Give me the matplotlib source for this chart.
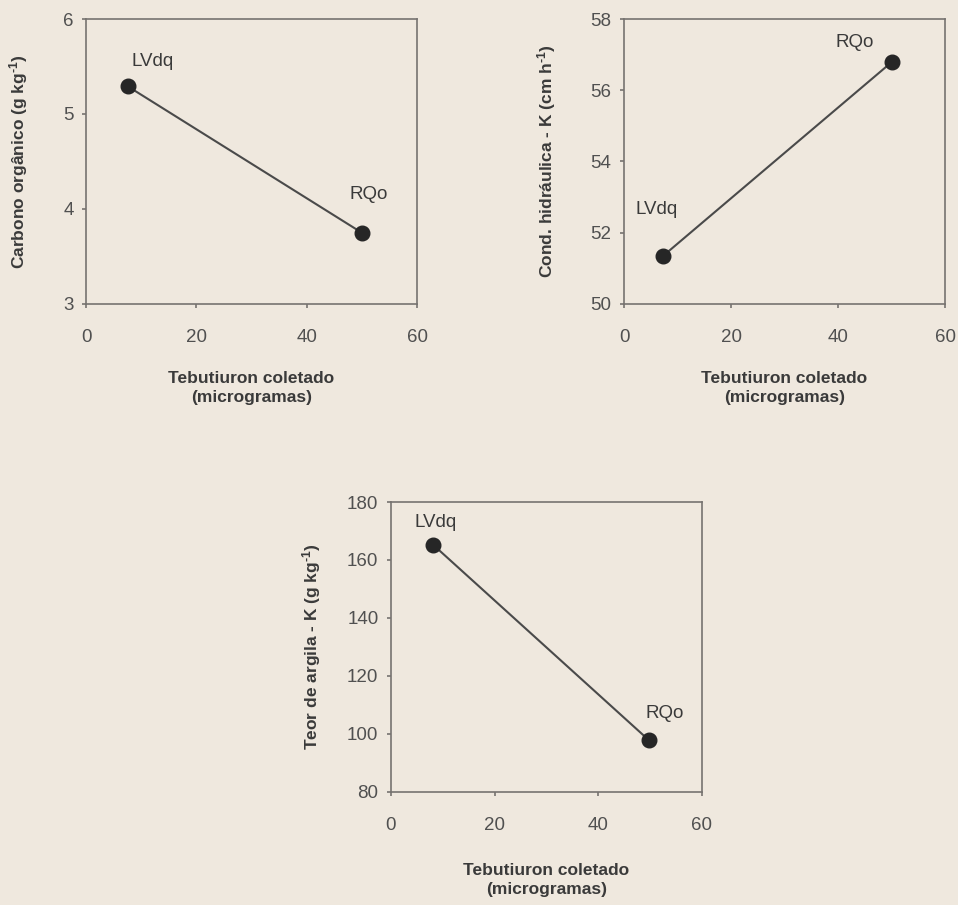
import matplotlib
matplotlib.use("Agg")
import matplotlib.pyplot as plt

plt.rcParams['font.family'] = ['Liberation Sans', 'DejaVu Sans']
plt.rcParams['mathtext.fontset'] = 'custom'
plt.rcParams['mathtext.rm'] = 'Liberation Sans:bold'
plt.rcParams['mathtext.bf'] = 'Liberation Sans:bold'
plt.rcParams['mathtext.default'] = 'bf'

# Data
soils = ["LVdq", "RQo"]
tebutiuron = [7.6, 50.0]
carbono = [5.29, 3.75]
tebutiuron_k = [7.3, 50.1]
cond_hidraulica = [51.35, 56.8]
tebutiuron_a = [8.1, 49.8]
argila = [165.3, 97.8]

xlabel = "Tebutiuron coletado\n(microgramas)"
x_ticks = [0, 20, 40, 60]

BG = "#efe8de"
TXT = "#3a3a3a"
TICK = "#505050"
FRAME = "#767370"

fig = plt.figure(figsize=(9.58, 9.05), dpi=100)
fig.patch.set_facecolor(BG)

specs = [
    dict(pos=[0.0898, 0.6641, 0.3455, 0.3149], x=tebutiuron, y=carbono,
         ylim=(3, 6), yticks=[3, 4, 5, 6],
         ylabel=r"Carbono orgânico (g kg$^{\text{-}1}$)", ylc=-0.168, xlc=-0.235,
         ann=[(8.3, 5.55), (47.8, 4.15)]),
    dict(pos=[0.6514, 0.6641, 0.3351, 0.3149], x=tebutiuron_k, y=cond_hidraulica,
         ylim=(50, 58), yticks=[50, 52, 54, 56, 58],
         ylabel=r"Cond. hidráulica - K (cm h$^{\text{-}1}$)", ylc=-0.205, xlc=-0.235,
         ann=[(2.2, 52.64), (39.6, 57.33)]),
    dict(pos=[0.4081, 0.1249, 0.3246, 0.3204], x=tebutiuron_a, y=argila,
         ylim=(80, 180), yticks=[80, 100, 120, 140, 160, 180],
         ylabel=r"Teor de argila - K (g kg$^{\text{-}1}$)", ylc=-0.218, xlc=-0.245,
         ann=[(4.6, 172.8), (49.2, 107.2)]),
]

for s in specs:
    ax = fig.add_axes(s["pos"])
    ax.set_facecolor(BG)
    ax.plot(s["x"], s["y"], color="#4a4a4a", lw=1.5, marker="o",
            markersize=10.5, markerfacecolor="#262626", markeredgecolor="#262626",
            zorder=3)
    for name, (tx, ty) in zip(soils, s["ann"]):
        ax.text(tx, ty, name, fontsize=13.5, color=TXT, ha="left", va="center")
    ax.set_xlim(0, 60)
    ax.set_ylim(*s["ylim"])
    ax.set_xticks(x_ticks)
    ax.set_yticks(s["yticks"])
    for sp in ax.spines.values():
        sp.set_color(FRAME)
        sp.set_linewidth(1.2)
    ax.tick_params(axis="both", direction="out", length=3, width=1.2,
                   color=FRAME, labelcolor=TICK, labelsize=13.5)
    ax.tick_params(axis="x", pad=15)
    ax.tick_params(axis="y", pad=6)
    ax.set_xlabel(xlabel, fontsize=12.5, fontweight="bold", color=TXT, linespacing=1.3)
    ax.set_ylabel(s["ylabel"], fontsize=12.5, fontweight="bold", color=TXT)
    ax.xaxis.set_label_coords(0.5, s["xlc"])
    ax.yaxis.set_label_coords(s["ylc"], 0.5)

fig.savefig("out.png", dpi=100, facecolor=BG)
